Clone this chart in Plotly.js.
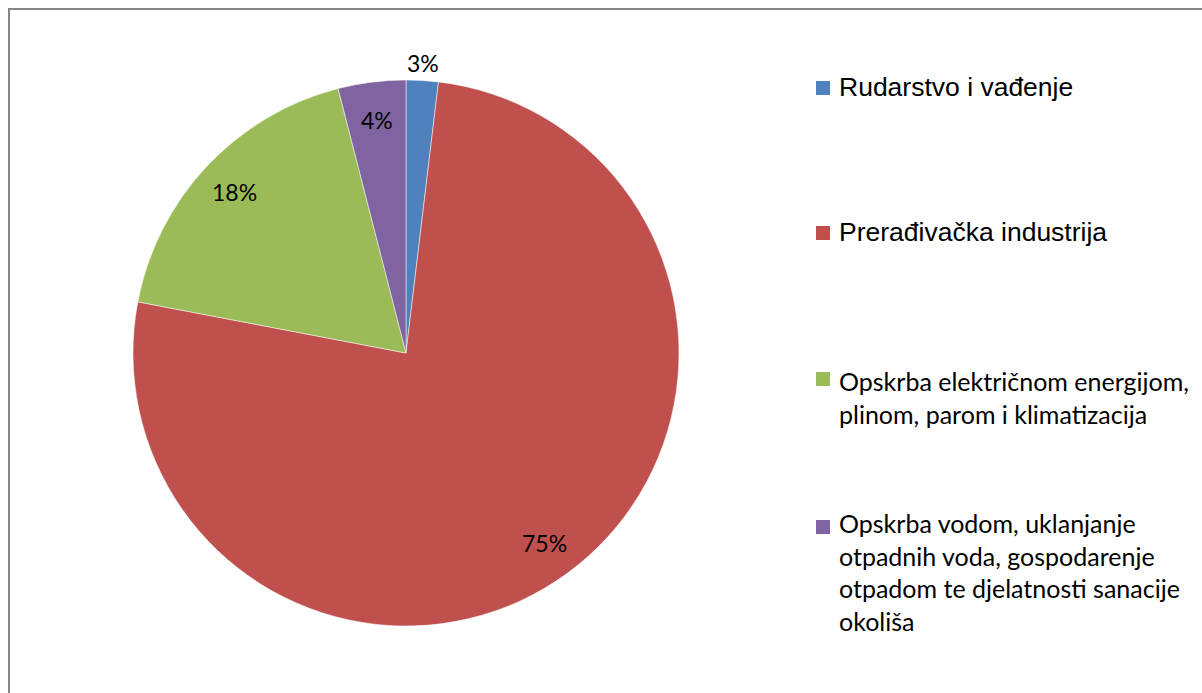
<!DOCTYPE html>
<html>
<head>
<meta charset="utf-8">
<script src="https://cdn.plot.ly/plotly-3.0.1.min.js"></script>
<style>
  html, body { margin: 0; padding: 0; background: #ffffff; }
  #chart { width: 1202px; height: 693px; }
</style>
</head>
<body>
<div id="chart"></div>
<script>
// ---- data ----
const categories = [
  'Rudarstvo i vađenje',
  'Prerađivačka industrija',
  'Opskrba električnom energijom, plinom, parom i klimatizacija',
  'Opskrba vodom, uklanjanje otpadnih voda, gospodarenje otpadom te djelatnosti sanacije okoliša'
];
const values = [1.9, 76.1, 18.0, 4.0];
const percentLabels = ['3%', '75%', '18%', '4%'];
const legendLabels = [
  'Rudarstvo i vađenje',
  'Prerađivačka industrija',
  'Opskrba električnom energijom,<br>plinom, parom i klimatizacija',
  'Opskrba vodom, uklanjanje<br>otpadnih voda, gospodarenje<br>otpadom te djelatnosti sanacije<br>okoliša'
];

// ---- styles / layout constants ----
const colors = ['#4F81BD', '#C0504D', '#9BBB59', '#8064A2'];
const W = 1202, H = 693;
const CX = 406, CY = 353, R = 273;
const labelOutside = [true, false, false, false];
const legendFonts = [
  {family: '"Liberation Sans", Arial, sans-serif', size: 26.5},
  {family: '"Liberation Sans", Arial, sans-serif', size: 26.5},
  {family: 'Lato, "Open Sans", sans-serif', size: 25},
  {family: 'Lato, "Open Sans", sans-serif', size: 25}
];
const legendFirstLineY = [87, 232, 381, 523];
const legendMarkerY = [88, 233, 379, 527];
const legendTextX = 838, legendMarkerX = 823, markerSize = 14;

const px = x => x / W;
const py = y => 1 - y / H;

const trace = {
  type: 'pie',
  labels: categories,
  values: values,
  sort: false,
  direction: 'clockwise',
  rotation: 0,
  marker: {colors: colors, line: {color: '#ffffff', width: 0.5}},
  textinfo: 'none',
  hoverinfo: 'label+percent',
  showlegend: false,
  domain: {x: [px(CX - R), px(CX + R)], y: [py(CY + R), py(CY - R)]}
};

// percentage labels placed at the mid-angle of each slice
const total = values.reduce((a, b) => a + b, 0);
const annotations = [];
let cum = 0;
values.forEach((v, i) => {
  const mid = (cum + v / 2) / total * 2 * Math.PI;
  cum += v;
  const f = labelOutside[i] ? 1.065 : 0.86;
  annotations.push({
    xref: 'paper', yref: 'paper',
    x: px(CX + R * f * Math.sin(mid)),
    y: py(CY - R * f * Math.cos(mid)),
    xanchor: 'center', yanchor: 'middle',
    text: percentLabels[i], showarrow: false,
    font: {family: 'Lato, "Open Sans", sans-serif', size: 23, color: '#000000'}
  });
});

// legend (Excel-style, evenly distributed on the right)
const shapes = [
  {type: 'line', xref: 'paper', yref: 'paper', x0: px(8), x1: 1, y0: py(9), y1: py(9), line: {color: '#868686', width: 2}},
  {type: 'line', xref: 'paper', yref: 'paper', x0: px(9), x1: px(9), y0: py(8), y1: 0, line: {color: '#868686', width: 2}}
];
legendLabels.forEach((lab, i) => {
  const nLines = lab.split('<br>').length;
  const lh = legendFonts[i].size * 1.3;
  annotations.push({
    xref: 'paper', yref: 'paper',
    x: px(legendTextX), y: py(legendFirstLineY[i] + (nLines - 1) * lh / 2),
    xanchor: 'left', yanchor: 'middle', align: 'left',
    text: lab, showarrow: false, borderpad: 0,
    font: Object.assign({color: '#000000'}, legendFonts[i])
  });
  shapes.push({
    type: 'rect', xref: 'paper', yref: 'paper',
    x0: px(legendMarkerX - markerSize / 2), x1: px(legendMarkerX + markerSize / 2),
    y0: py(legendMarkerY[i] + markerSize / 2), y1: py(legendMarkerY[i] - markerSize / 2),
    fillcolor: colors[i], line: {width: 0}
  });
});

const layout = {
  width: W, height: H,
  margin: {l: 0, r: 0, t: 0, b: 0},
  paper_bgcolor: '#ffffff',
  showlegend: false,
  annotations: annotations,
  shapes: shapes
};

Plotly.newPlot('chart', [trace], layout, {displayModeBar: false, responsive: false});
</script>
</body>
</html>
